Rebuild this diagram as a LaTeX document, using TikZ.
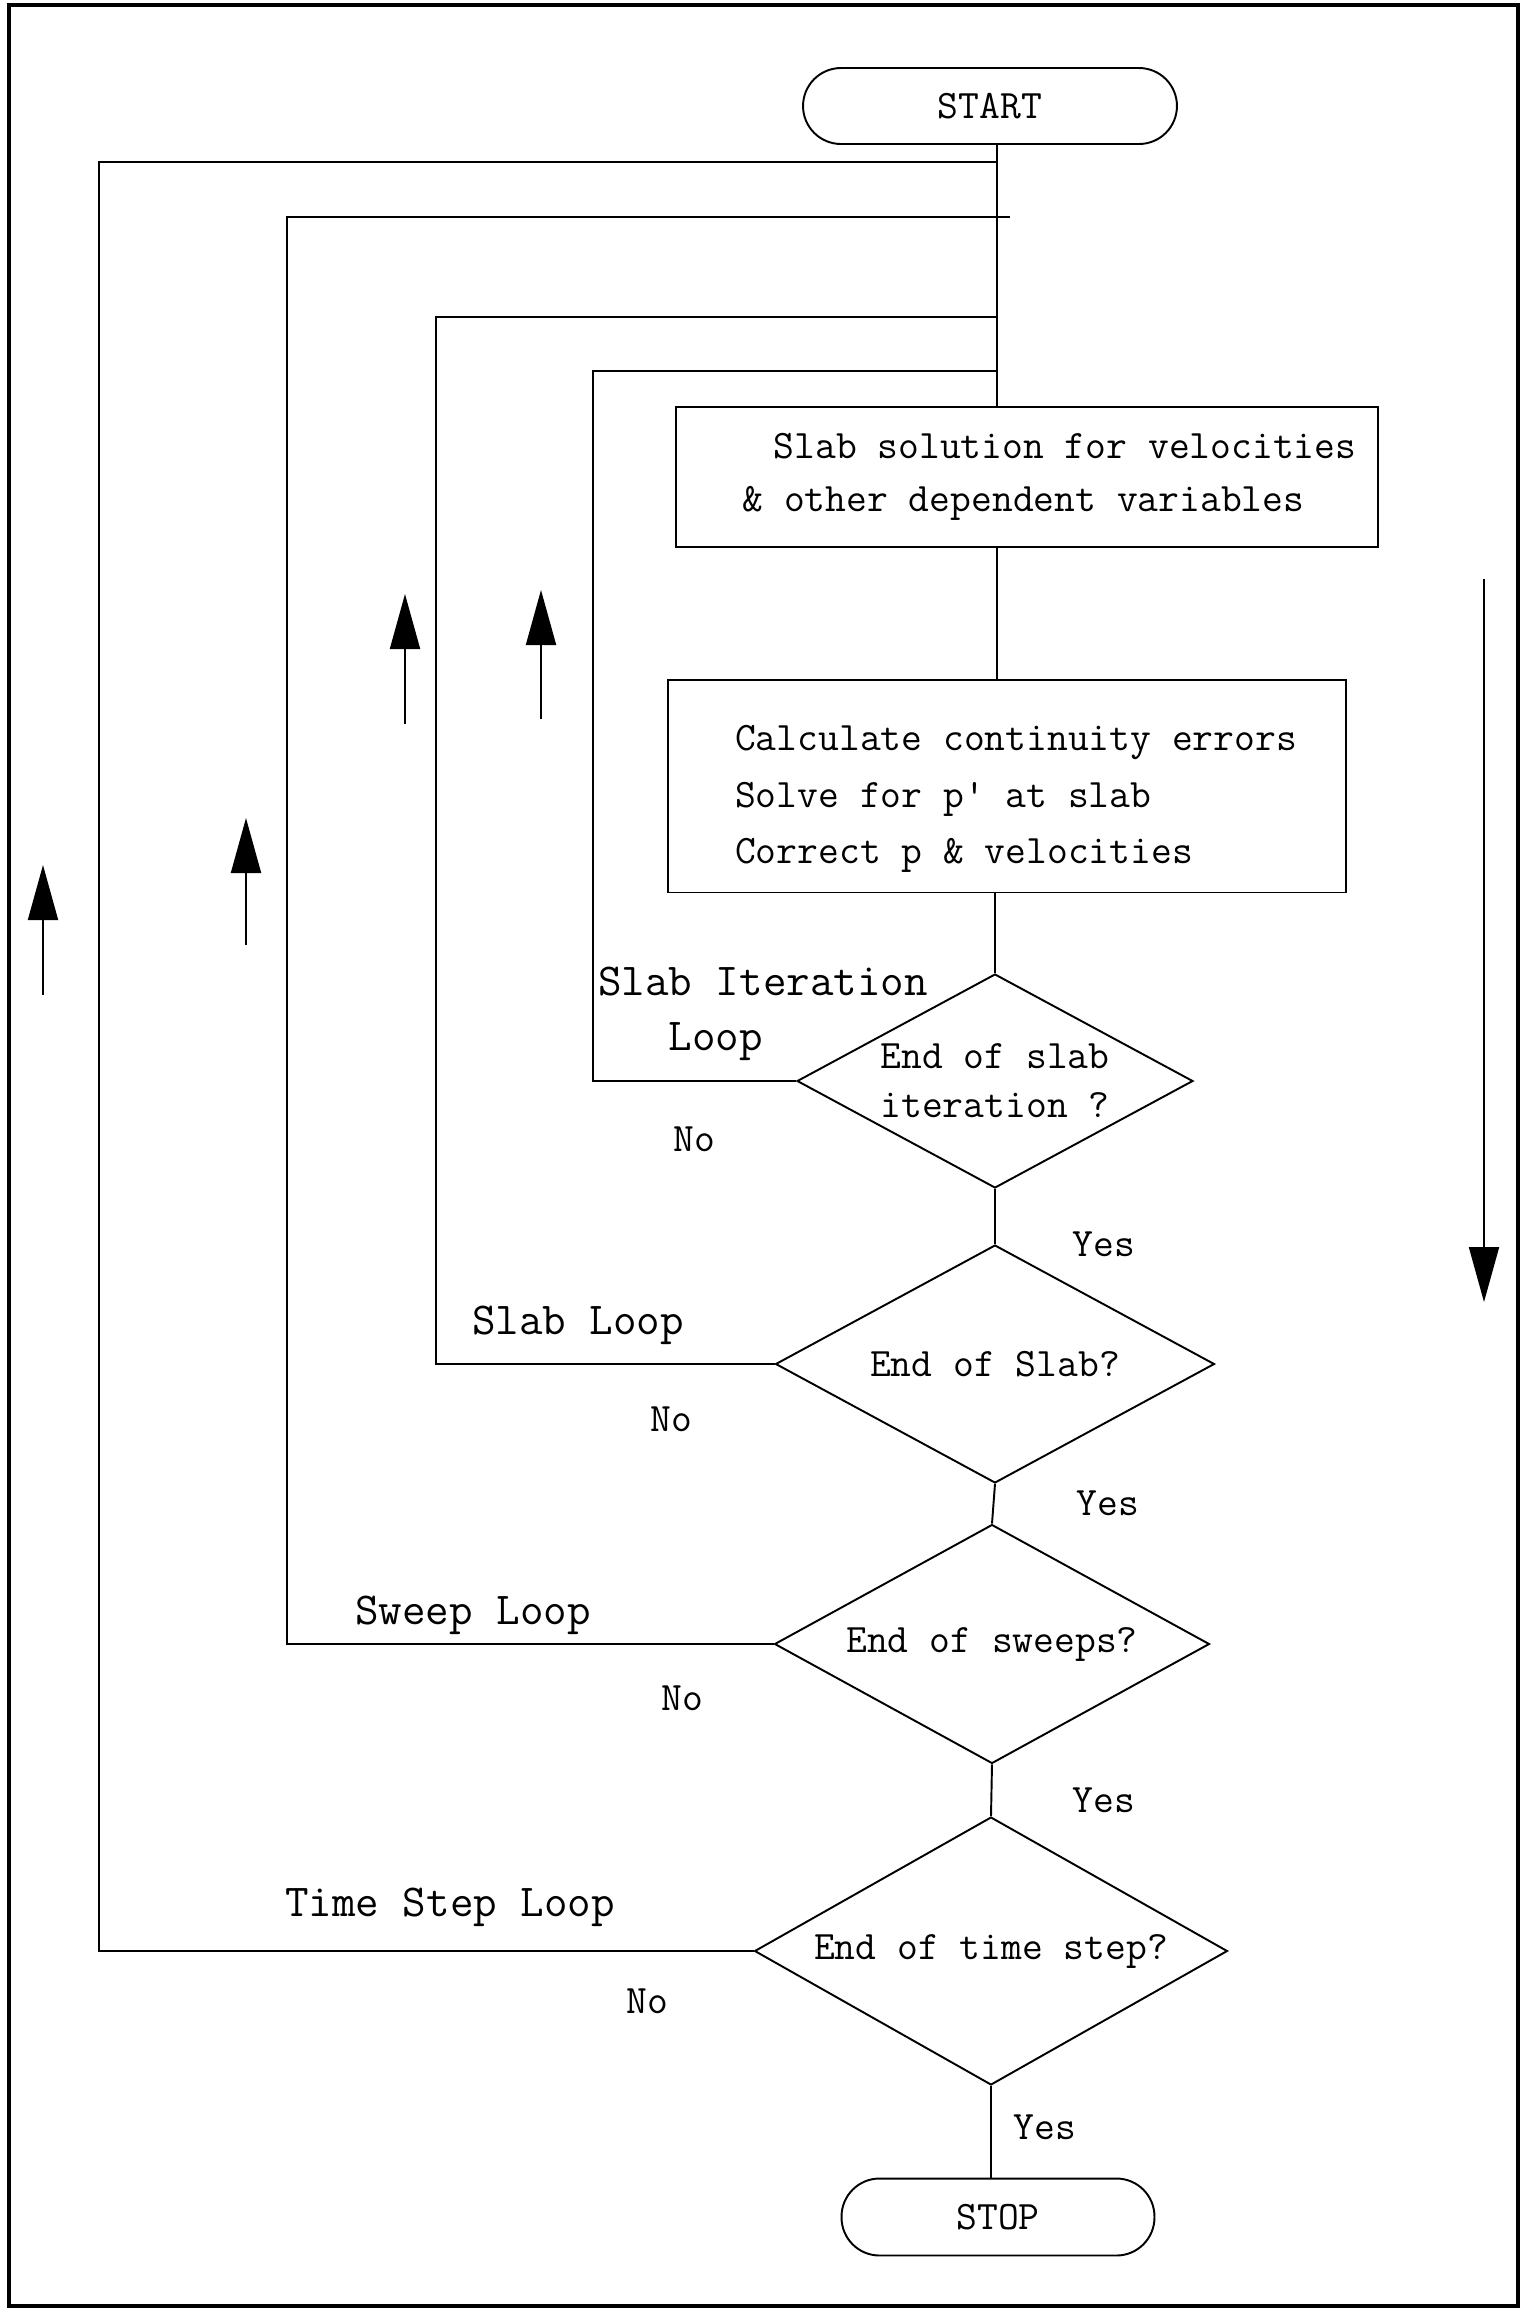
\documentclass[tikz,border=0pt]{standalone}
\usepackage{tikz}
\usetikzlibrary{positioning,shapes.geometric,arrows.meta}

\tikzset{
	term/.style={draw, rounded corners=0.76cm, minimum width=7.48cm, minimum height=1.52cm},
	box/.style={draw, align=left, inner sep=0pt},
	test/.style={draw, diamond, aspect=1.85, inner sep=0pt, align=center},
	lbl/.style={font=\ttfamily\fontsize{26}{31}\selectfont, align=left},
	updown/.style={-{Triangle[length=1.1cm,width=0.6cm]}}
}

\begin{document}
\begin{tikzpicture}[x=0.02cm, y=-0.02cm, line width=1.1pt,
		font=\ttfamily\fontsize{23}{30}\selectfont]
	\useasboundingbox (0,0) rectangle (1521,2310);
	\draw[line width=1.8pt] (9,5) rectangle (1518,2306);

	\node(start) [term] at (990,106) {START};
	\node(solve) [box, minimum width=14.04cm, minimum height=2.8cm] at (1027,477)
		{\hspace*{1.88em}Slab solution for velocities\\\hspace*{1.11em}\& other dependent variables};
	\node(correct) [box, minimum width=13.56cm, minimum height=4.26cm,
		font=\ttfamily\fontsize{23}{32}\selectfont] at (1007,786)
		{\rule{0pt}{29pt}\hspace*{0.45em}Calculate continuity errors\\
		\hspace*{0.45em}Solve for p' at slab\\\hspace*{0.45em}Correct p \& velocities};
	\node(iter) [test, minimum width=7.92cm, minimum height=4.28cm,
		font=\ttfamily\fontsize{23}{28}\selectfont] at (995,1081) {End of slab\\iteration ?};
	\node(slab) [test, minimum width=8.78cm, minimum height=4.76cm] at (995,1364) {End of Slab?};
	\node(sweep) [test, minimum width=8.7cm, minimum height=4.78cm] at (992,1644) {End of sweeps?};
	\node(time) [test, minimum width=9.46cm, minimum height=5.36cm] at (991,1951) {End of time step?};
	\node(stop) [term, minimum width=6.26cm, minimum height=1.54cm] at (998,2217) {STOP};

	\coordinate(j1) at (997,162);
	\coordinate(j2) at (997,217);
	\coordinate(j3) at (997,317);
	\coordinate(j4) at (997,371);

	% main line
	\draw(start.south -| j1) -- (j4);
	\draw(j4) -- (j4 |- solve.north);
	\draw(solve.south -| j1) -- (correct.north -| j1);
	\draw(correct.south -| iter) -- (iter.north);
	\draw(iter.south) -- (slab.north);
	\draw(slab.south) -- (sweep.north);
	\draw(sweep.south) -- (time.north);
	\draw(time.south) -- (time.south |- stop.north);

	% loops back to the top
	\draw(iter.west) -- ++(-203,0) |- (j4);
	\draw(slab.west) -- ++(-339,0) |- (j3);
	\draw(sweep.west) -- ++(-487,0) |- ([xshift=0.26cm]j2);
	\draw(time.west) -- ++(-655,0) |- (j1);

	\node(itlbl) [lbl] at (763,1014) {Slab Iteration\\\hphantom{Sla}Loop};
	\node(slbl) [lbl] at (578,1325) {Slab Loop};
	\node(swlbl) [lbl] at (473,1615) {Sweep Loop};
	\node(tlbl) [lbl] at (450,1907) {Time Step Loop};

	\node(no1) at (694,1139) {No};
	\node(no2) at (671,1419) {No};
	\node(no3) at (682,1698) {No};
	\node(no4) at (647,2001) {No};
	\node(yes1) at (1104,1244) {Yes};
	\node(yes2) at (1108,1503) {Yes};
	\node(yes3) at (1104,1800) {Yes};
	\node(yes4) at (1045,2127) {Yes};

	% direction arrows
	\draw[updown] (43,995) -- (43,865);
	\draw[updown] (246,945) -- (246,818);
	\draw[updown] (405,724) -- (405,594);
	\draw[updown] (541,719) -- (541,590);
	\draw[updown] (1484,579) -- (1484,1302);
\end{tikzpicture}
\end{document}
